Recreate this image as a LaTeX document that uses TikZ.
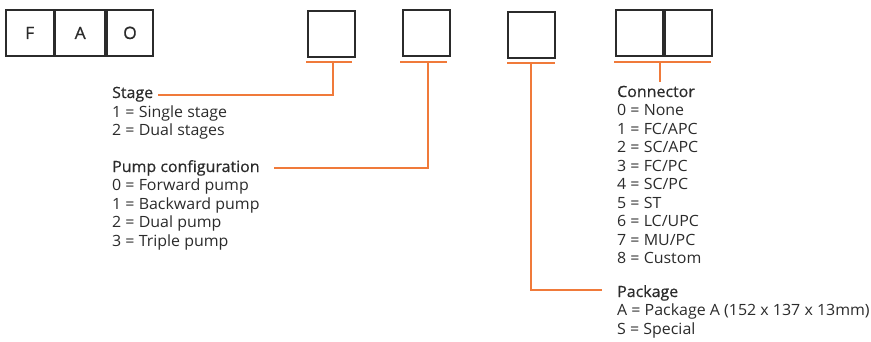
\documentclass[tikz,border=0pt]{standalone}
\usepackage{fontspec}
\setmainfont{Open Sans}[FakeStretch=1.03]
\newfontfamily\headfont{Open Sans}[FakeBold=0.6,FakeStretch=1.03]
\definecolor{ink}{HTML}{2B2B2B}
\definecolor{org}{HTML}{F07A3A}
\begin{document}
\begin{tikzpicture}[x=1pt,y=-1pt,
  cell/.style={draw=ink,line width=1.8pt,minimum width=47pt,minimum height=46pt,inner sep=0pt,anchor=north west,font=\fontsize{17}{19}\headfont,text=ink},
  lab/.style={anchor=base west,inner sep=0pt,font=\fontsize{15.5}{17}\selectfont,text=ink},
  head/.style={lab,font=\fontsize{15.5}{17}\headfont},
  lead/.style={draw=org,line width=1.5pt}]
\useasboundingbox (0,0) rectangle (871,341);
% FAO
\node[cell,minimum width=47.5pt] (f) at (5,9) {F};
\node[cell,minimum width=50pt] (a) at (f.north east) {A};
\node[cell,minimum width=46pt] (o) at (a.north east) {O};
% code boxes
\node[cell] (b1) at (307,10) {};
\node[cell] (b2) at (402,9) {};
\node[cell] (b3) at (507,11) {};
\node[cell] (c1) at (615,9) {};
\node[cell] (c2) at (c1.north east) {};
% bars
\coordinate (b1l) at (306,62); \coordinate (b1r) at (352,62); \coordinate (b1m) at (333,62);
\coordinate (b2l) at (400,62); \coordinate (b2r) at (447,62); \coordinate (b2m) at (428,62);
\coordinate (b3l) at (507,63); \coordinate (b3r) at (555,63); \coordinate (b3m) at (531,63);
\coordinate (cl) at (614,62); \coordinate (cr) at (711,62); \coordinate (cm) at (660,62);
\draw[lead] (b1l) -- (b1r);
\draw[lead] (b2l) -- (b2r);
\draw[lead] (b3l) -- (b3r);
\draw[lead] (cl) -- (cr);
% labels
\node[head] (st) at (112,98) {Stage};
\node[lab] (st1) at (112,117) {1 = Single stage};
\node[lab] (st2) at (112,135) {2 = Dual stages};
\node[head] (pc) at (112,172) {Pump configuration};
\node[lab] (pc0) at (112,190.5) {0 = Forward pump};
\node[lab] (pc1) at (112,209) {1 = Backward pump};
\node[lab] (pc2) at (112,227.5) {2 = Dual pump};
\node[lab] (pc3) at (112,246) {3 = Triple pump};
\node[head] (cn) at (617,97) {Connector};
\node[lab] (cn0) at (617,115.5) {0 = None};
\node[lab] (cn1) at (617,134) {1 = FC/APC};
\node[lab] (cn2) at (617,152.5) {2 = SC/APC};
\node[lab] (cn3) at (617,171) {3 = FC/PC};
\node[lab] (cn4) at (617,189.5) {4 = SC/PC};
\node[lab] (cn5) at (617,208) {5 = ST};
\node[lab] (cn6) at (617,226.5) {6 = LC/UPC};
\node[lab] (cn7) at (617,245) {7 = MU/PC};
\node[lab] (cn8) at (617,263.5) {8 = Custom};
\node[head] (pk) at (617,297) {Package};
\node[lab] (pk1) at (617,315.5) {A = Package A (152 x 137 x 13mm)};
\node[lab] (pk2) at (617,334) {S = Special};
% leaders
\coordinate (stend) at (158,95);
\coordinate (pcend) at (274,168);
\coordinate (cnend) at (660,82);
\coordinate (pkend) at (602,290);
\draw[lead] (b1m) |- (stend);
\draw[lead] (b2m) |- (pcend);
\draw[lead] (cm) -- (cnend);
\draw[lead] (b3m) |- (pkend);
\end{tikzpicture}
\end{document}
